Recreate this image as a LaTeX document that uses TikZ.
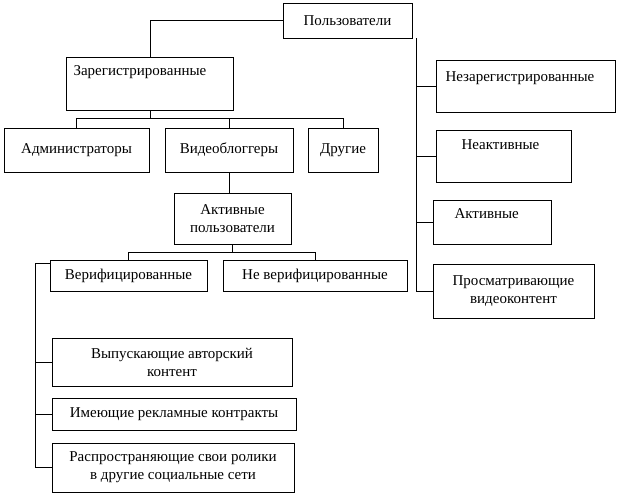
\documentclass[tikz,border=0pt]{standalone}
\usepackage{fontspec}
\setmainfont{Liberation Serif}
\tikzset{box/.style={rectangle, draw=black, text centered, font=\fontsize{15}{18}\selectfont, inner sep=2pt},
  lbl/.style={anchor=north west, font=\fontsize{15}{18}\selectfont},
  line/.style={draw=black}}
\begin{document}
\begin{tikzpicture}[x=1pt, y=-1pt]
    \useasboundingbox (0,0) rectangle (622,499);
    % top level
    \node [box, minimum width=129pt, minimum height=35pt]				(users)		at (347.5,20.5)	{Пользователи};
    \node [box, minimum width=167pt, minimum height=53pt, anchor=north west]	(reg)		at (66,57)	{};
    \node [lbl]									(regtext)	at (70,62)	{Зарегистрированные};
    % registered branch
    \node [box, minimum width=145pt, minimum height=44pt]				(admin)		at (76.5,150)	{Администраторы};
    \node [box, minimum width=128pt, minimum height=44pt]				(blog)		at (229,150)	{Видеоблоггеры};
    \node [box, minimum width=70pt, minimum height=44pt]				(other)		at (343,150)	{Другие};
    \node [box, minimum width=117pt, minimum height=51pt, align=center]		(active)	at (232.5,218.5)	{Активные\\пользователи};
    \node [box, minimum width=157pt, minimum height=31pt]				(verif)		at (128.5,275.5)	{Верифицированные};
    \node [box, minimum width=184pt, minimum height=31pt]				(nverif)	at (315,275.5)	{Не верифицированные};
    \node [box, minimum width=240pt, minimum height=48pt, align=center]		(author)	at (172,362)	{Выпускающие авторский\\контент};
    \node [box, minimum width=244pt, minimum height=32pt]				(ads)		at (174,414)	{Имеющие рекламные контракты};
    \node [box, minimum width=242pt, minimum height=49pt, align=center]		(spread)	at (173,467.5)	{Распространяющие свои ролики\\в другие социальные сети};
    % unregistered side
    \node [box, minimum width=179pt, minimum height=52pt]				(unreg)		at (525.5,86)	{};
    \node [lbl]									(unregtext)	at (442,68)	{Незарегистрированные};
    \node [box, minimum width=135pt, minimum height=52pt, anchor=north west]	(inact)		at (436,130)	{};
    \node [lbl]									(inacttext)	at (458,136)	{Неактивные};
    \node [box, minimum width=118pt, minimum height=44pt, anchor=north west]	(act)		at (433,200)	{};
    \node [lbl]									(acttext)	at (451,205)	{Активные};
    \node [box, minimum width=161pt, minimum height=54pt, align=center]		(viewers)	at (513.5,291)	{Просматривающие\\видеоконтент};

    \coordinate (rtrunk) at (416,38);
    \coordinate (ltrunk) at (35,263);

    \draw [line] (users.west) -| (reg.north);
    \draw [line] (rtrunk) |- (viewers.west);
    \draw [line] (rtrunk |- unreg.west) -- (unreg.west);
    \draw [line] (rtrunk |- inact.west) -- (inact.west);
    \draw [line] (rtrunk |- act.west) -- (act.west);
    \draw [line] (reg.south) -- ++(0,8) -| (admin.north);
    \draw [line] (reg.south) ++(0,8) -| (other.north);
    \draw [line] (reg.south) ++(0,8) -| (blog.north);
    \draw [line] (blog.south) -- (blog.south |- active.north);
    \draw [line] (active.south) -- ++(0,8) -| (verif.north);
    \draw [line] (active.south) ++(0,8) -| (nverif.north);
    \draw [line] (verif.west |- ltrunk) -- (ltrunk) |- (spread.west);
    \draw [line] (ltrunk |- author.west) -- (author.west);
    \draw [line] (ltrunk |- ads.west) -- (ads.west);
\end{tikzpicture}
\end{document}
